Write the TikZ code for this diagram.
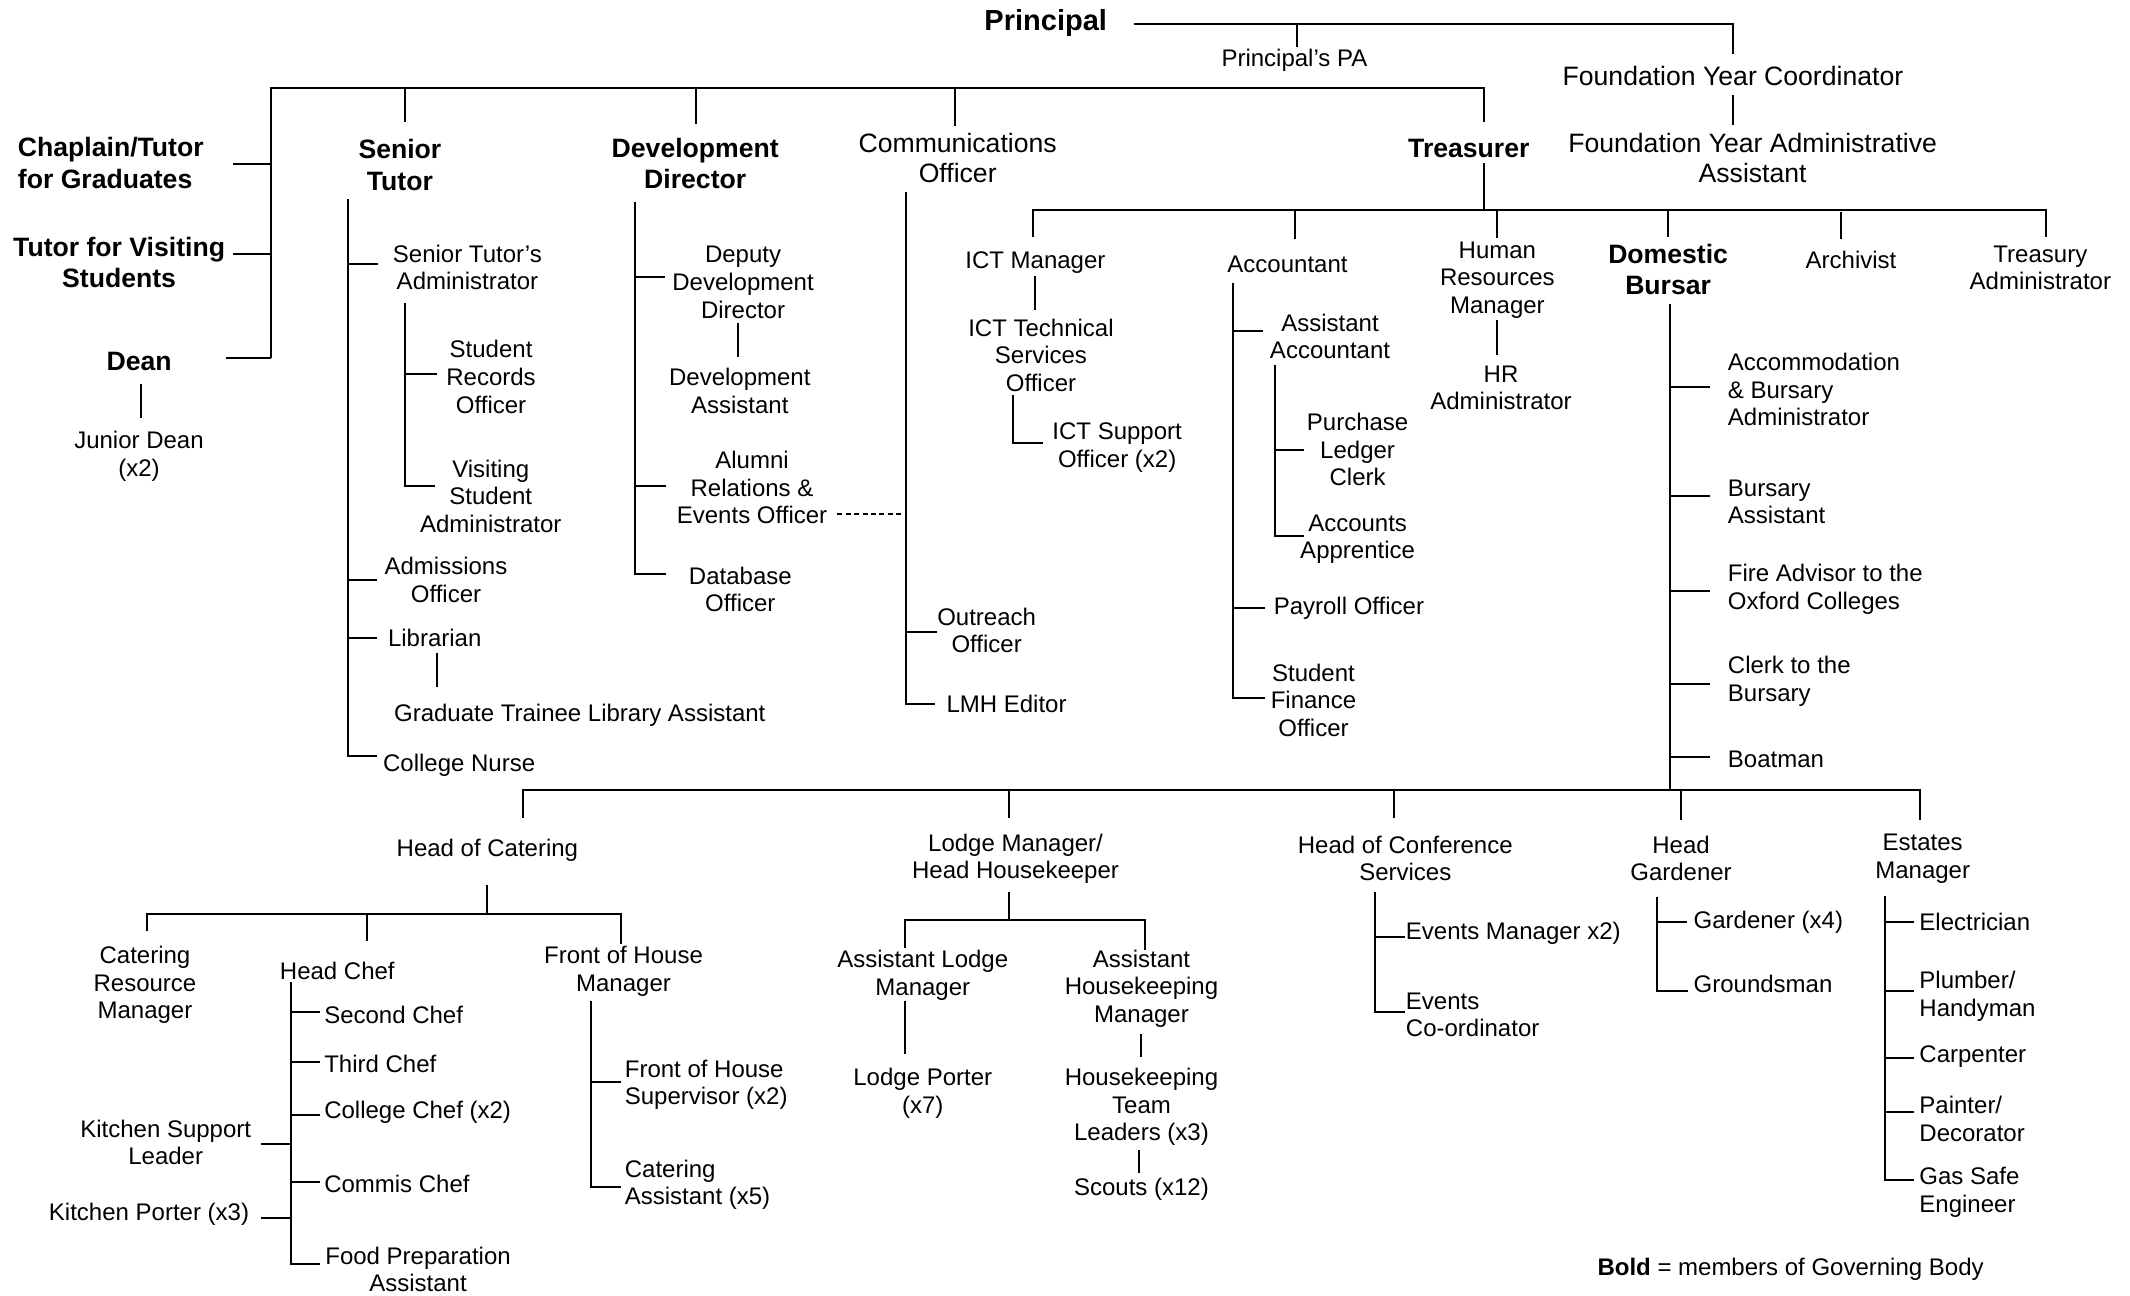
\documentclass[tikz,border=0pt]{standalone}
\usepackage{fontspec}
\setmainfont{Liberation Sans}
\begin{document}
\begin{tikzpicture}[x=0.6792pt,y=-0.6792pt,
  lbl/.style={inner sep=0pt, outer sep=0pt, align=center, font=\fontsize{12}{13.8}\selectfont},
  lbll/.style={lbl, align=left, anchor=west},
  hd/.style={lbl, font=\fontsize{13.3}{15.6}\selectfont\bfseries},
  hdl/.style={hd, align=left, anchor=west},
  big/.style={lbl, font=\fontsize{13.3}{15}\selectfont},
  ln/.style={line width=1pt},
  dsh/.style={line width=0.9pt, dash pattern=on 2.5pt off 1.7pt}]
\useasboundingbox (0,0) rectangle (1568,954);

% ---------------- top ----------------
\node[hd, font=\fontsize{14.5}{16}\selectfont\bfseries] (principal) at (769.8,17.2) {Principal};
\node[lbl] (pa) at (952.9,44.5) {Principal’s PA};
\node[big] (fyc) at (1275.7,55.8) {Foundation Year Coordinator};
\node[big] (fyaa) at (1290.2,116.3) {Foundation Year Administrative\\Assistant};
\coordinate (pR) at (834.6,17.7);
\coordinate (pJ) at (955,17.7);
\coordinate (pE) at (1275.7,17.7);
\draw[ln] (pR) -- (pE) -- (1275.7,39.8);
\draw[ln] (pJ) -- (955,34.4);
\draw[ln] (1275.7,70) -- (1275.7,92);

% main bus
\coordinate (mL) at (199.5,65);
\coordinate (mR) at (1092.4,65);
\draw[ln] (199.5,263.8) -- (mL) -- (mR) -- (1092.4,89.6);
\draw[ln] (171.4,120.7) -- (199.5,120.7);
\draw[ln] (171.4,187) -- (199.5,187);
\draw[ln] (166.7,263.8) -- (199.5,263.8);
\draw[ln] (298,65) -- (298,90);
\draw[ln] (512.2,65) -- (512.2,91.5);
\draw[ln] (703.3,65) -- (703.3,92.5);

% ---------------- left ----------------
\node[hdl] (chap) at (13.2,120) {Chaplain/Tutor\\for Graduates};
\node[hd] (tvs) at (87.7,193.5) {Tutor for Visiting\\Students};
\node[hd] (dean) at (102.4,265.8) {Dean};
\node[lbl] (jd) at (102.3,336) {Junior Dean\\(x2)};
\draw[ln] (103.5,283) -- (103.5,307.8);

% ---------------- senior tutor ----------------
\node[hd] (st) at (294.4,121.5) {Senior\\Tutor};
\draw[ln] (255.9,146.7) -- (255.9,556.3) -- (277.6,556.3);
\draw[ln] (255.9,194.3) -- (278.4,194.3);
\node[lbl] (sta) at (344.1,197) {Senior Tutor’s\\Administrator};
\draw[ln] (298.1,222.8) -- (298.1,357.8) -- (320,357.8);
\draw[ln] (298.1,275.3) -- (321.6,275.3);
\node[lbl] (sro) at (361.5,277.5) {Student\\Records\\Officer};
\node[lbl] (vsa) at (361.3,365.4) {Visiting\\Student\\Administrator};
\draw[ln] (255.9,427) -- (277.6,427);
\node[lbl] (adm) at (328.3,427) {Admissions\\Officer};
\draw[ln] (255.9,469.4) -- (277.6,469.4);
\node[lbl] (lib) at (320,469.5) {Librarian};
\draw[ln] (322,480.5) -- (322,506);
\node[lbl] (gtla) at (426.8,526.4) {Graduate Trainee Library Assistant};
\node[lbl] (cn) at (338,563) {College Nurse};

% ---------------- development ----------------
\node[hd] (dd) at (511.8,120.5) {Development\\Director};
\draw[ln] (467.2,148.5) -- (467.2,422.6) -- (490,422.6);
\draw[ln] (467.2,204.2) -- (489.7,204.2);
\node[lbl] (ddd) at (547,207.9) {Deputy\\Development\\Director};
\draw[ln] (543.2,237.5) -- (543.2,263);
\node[lbl] (da) at (544.6,287.7) {Development\\Assistant};
\draw[ln] (467.2,357.8) -- (490.2,357.8);
\node[lbl] (areo) at (553.6,359) {Alumni\\Relations \&\\Events Officer};
\node[lbl] (dbo) at (545,434) {Database\\Officer};
\draw[dsh] (616.4,378.5) -- (666.7,378.5);

% ---------------- communications ----------------
\node[big] (co) at (705,116.5) {Communications\\Officer};
\draw[ln] (666.7,141.6) -- (666.7,518.3) -- (688.3,518.3);
\draw[ln] (666.7,465) -- (690,465);
\node[lbl] (oo) at (726.3,464) {Outreach\\Officer};
\node[lbl] (lmh) at (741,518) {LMH Editor};

% ---------------- treasurer ----------------
\node[hd] (tr) at (1081.3,109.2) {Treasurer};
\draw[ln] (1092.4,120.2) -- (1092.4,154.5);
\coordinate (tL) at (760.5,154.5);
\coordinate (tR) at (1506,154.5);
\draw[ln] (760.5,174.6) -- (tL) -- (tR) -- (1506,174.5);
\draw[ln] (953,155.5) -- (953,176);
\draw[ln] (1102.3,154.5) -- (1102.3,175);
\draw[ln] (1227.6,154.5) -- (1227.6,174.5);
\draw[ln] (1355.6,156) -- (1355.6,176);

\node[lbl] (ictm) at (762.2,193.1) {ICT Manager};
\draw[ln] (762.2,203) -- (762.2,228);
\node[lbl] (icttso) at (766.3,261.4) {ICT Technical\\Services\\Officer};
\draw[ln] (746,291) -- (746,326) -- (768,326);
\node[lbl] (ictso) at (822.4,329.4) {ICT Support\\Officer (x2)};

\node[lbl] (acc) at (947.8,194.5) {Accountant};
\draw[ln] (908,208) -- (908,514) -- (931,514);
\draw[ln] (908,244) -- (930,244);
\node[lbl] (aa) at (979.1,247.6) {Assistant\\Accountant};
\draw[ln] (938.6,268.8) -- (938.6,394.6) -- (960,394.6);
\draw[ln] (938.6,331) -- (960,331);
\node[lbl] (plc) at (999.4,330.9) {Purchase\\Ledger\\Clerk};
\node[lbl] (aap) at (999.4,396.8) {Accounts\\Apprentice};
\draw[ln] (908,447.6) -- (931,447.6);
\node[lbl] (po) at (993,447.6) {Payroll Officer};
\node[lbl] (sfo) at (966.9,515.5) {Student\\Finance\\Officer};

\node[lbl] (hrm) at (1102.3,206.2) {Human\\Resources\\Manager};
\draw[ln] (1102.3,235.6) -- (1102.3,261.3);
\node[lbl] (hra) at (1105,285.5) {HR\\Administrator};

\node[hd] (db) at (1228,198.3) {Domestic\\Bursar};
\node[lbl] (arch) at (1362.6,191) {Archivist};
\node[lbl] (ta) at (1502,197.3) {Treasury\\Administrator};
\draw[ln] (1229,223.6) -- (1229,581.6);
\foreach \yy in {285,364.8,435.4,503.5,557.6}
  \draw[ln] (1229,\yy) -- (1258.6,\yy);
\node[lbll] (aba) at (1272,286.8) {Accommodation\\\& Bursary\\Administrator};
\node[lbll] (ba) at (1272,369.5) {Bursary\\Assistant};
\node[lbll] (fa) at (1272,434) {Fire Advisor to the\\Oxford Colleges};
\node[lbll] (cb) at (1272,501.5) {Clerk to the\\Bursary};
\node[lbll] (bm) at (1272,559) {Boatman};

% ---------------- bottom bus ----------------
\coordinate (bL) at (385,581.6);
\coordinate (bR) at (1413.3,581.6);
\draw[ln] (385,602) -- (bL) -- (bR) -- (1413.3,603.5);
\draw[ln] (743,581.6) -- (743,602);
\draw[ln] (1026,581.6) -- (1026,602);
\draw[ln] (1237.5,582.5) -- (1237.5,603.5);

% catering
\node[lbl] (hoc) at (358.8,626.2) {Head of Catering};
\draw[ln] (358.8,651.4) -- (358.8,672.7);
\draw[ln] (108.2,685.4) -- (108.2,672.7) -- (457.4,672.7) -- (457.4,695);
\draw[ln] (270.3,672.7) -- (270.3,692.7);
\node[lbl] (crm) at (106.7,725) {Catering\\Resource\\Manager};
\node[lbl] (hc) at (248.3,714.8) {Head Chef};
\draw[ln] (214,722.6) -- (214,930.7) -- (235.6,930.7);
\foreach \yy in {745.2,781.8,820.5,870.2}
  \draw[ln] (214,\yy) -- (235.6,\yy);
\draw[ln] (192.5,842) -- (214,842);
\draw[ln] (192.5,896.7) -- (214,896.7);
\node[lbll] (sc2) at (238.7,747) {Second Chef};
\node[lbll] (tc) at (238.7,783.5) {Third Chef};
\node[lbll] (cc) at (238.7,818.7) {College Chef (x2)};
\node[lbll] (cmc) at (238.7,871.6) {Commis Chef};
\node[lbl, anchor=west] (fpa) at (239.5,934.5) {Food Preparation\\Assistant};
\node[lbl] (ksl) at (122,841) {Kitchen Support\\Leader};
\node[lbl] (kp) at (109.7,894.2) {Kitchen Porter (x3)};
\node[lbl] (fohm) at (459,715) {Front of House\\Manager};
\draw[ln] (435,737) -- (435,873.6) -- (457.4,873.6);
\draw[ln] (435,796.5) -- (457.4,796.5);
\node[lbll] (fohs) at (460,798.6) {Front of House\\Supervisor (x2)};
\node[lbll] (ca) at (460,872.2) {Catering\\Assistant (x5)};

% lodge
\node[lbl] (lm) at (747.6,632.2) {Lodge Manager/\\Head Housekeeper};
\draw[ln] (743,657) -- (743,677);
\draw[ln] (666.5,698) -- (666.5,677) -- (843,677) -- (843,699);
\node[lbl] (alm) at (679.3,717.8) {Assistant Lodge\\Manager};
\draw[ln] (666.5,737) -- (666.5,776);
\node[lbl] (lp) at (679.3,805) {Lodge Porter\\(x7)};
\node[lbl] (ahm) at (840.3,727.8) {Assistant\\Housekeeping\\Manager};
\draw[ln] (840.3,761) -- (840.3,778);
\node[lbl] (htl) at (840.3,815) {Housekeeping\\Team\\Leaders (x3)};
\draw[ln] (838.7,846.4) -- (838.7,863.5);
\node[lbl] (scouts) at (840.3,875.3) {Scouts (x12)};

% conference
\node[lbl] (hcs) at (1034.5,632) {Head of Conference\\Services};
\draw[ln] (1012,657) -- (1012,745) -- (1034,745);
\draw[ln] (1012,689.6) -- (1034,689.6);
\node[lbll] (em) at (1035,687) {Events Manager x2)};
\node[lbll] (ec) at (1035,747) {Events\\Co-ordinator};

% gardener
\node[lbl] (hg) at (1237.5,632) {Head\\Gardener};
\draw[ln] (1220,660) -- (1220,729.4) -- (1242.5,729.4);
\draw[ln] (1220,679) -- (1242,679);
\node[lbll] (gar) at (1246.8,679) {Gardener (x4)};
\node[lbll] (gm) at (1246.8,724.4) {Groundsman};

% estates
\node[lbl] (esm) at (1415.4,632) {Estates\\Manager};
\draw[ln] (1387.3,659.4) -- (1387.3,869) -- (1409,869);
\foreach \yy in {679,729.4,779,818.6}
  \draw[ln] (1387.3,\yy) -- (1409,\yy);
\node[lbll] (el) at (1413,679) {Electrician};
\node[lbll] (pl) at (1413,733.5) {Plumber/\\Handyman};
\node[lbll] (cp) at (1413,778) {Carpenter};
\node[lbll] (pd) at (1413,823.7) {Painter/\\Decorator};
\node[lbll] (gs) at (1413,877.7) {Gas Safe\\Engineer};

% legend
\node[lbll] (legend) at (1176,934.5) {\textbf{Bold} = members of Governing Body};
\end{tikzpicture}
\end{document}
